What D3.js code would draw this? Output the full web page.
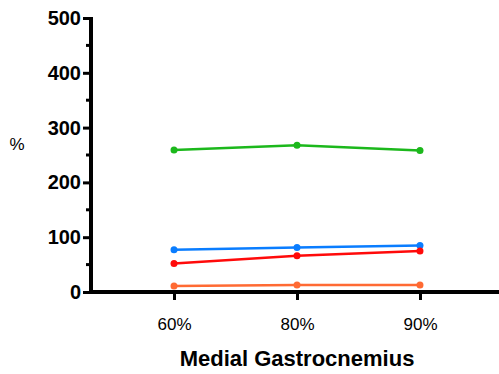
<!DOCTYPE html>
<html>
<head>
<meta charset="utf-8">
<script src="https://cdn.jsdelivr.net/npm/d3@7"></script>
<style>
  body { margin: 0; background: #fff; }
  text { font-family: "Liberation Sans", Arial, sans-serif; }
</style>
</head>
<body>
<div id="chart"></div>
<script>
// chart size
var svgWidth = 499;
var svgHeight = 374;

// data
var categories = ["60%", "80%", "90%"];
var seriesNames = ["green", "blue", "red", "orange"];
var greenValues = [259, 268, 258];
var blueValues = [77, 81, 85];
var redValues = [52, 66, 75];
var orangeValues = [11, 13, 13];
var yTicks = [0, 100, 200, 300, 400, 500];
var yMinorTicks = [50, 150, 250, 350, 450];
var colors = ["#1cb81c", "#0a7dff", "#ff0a0a", "#ff6a33"];

var series = [greenValues, blueValues, redValues, orangeValues];

var svg = d3.select("#chart")
  .append("svg")
  .attr("width", svgWidth)
  .attr("height", svgHeight);

// scales
var x = d3.scalePoint()
  .domain(categories)
  .range([91, 503])
  .padding(0.675);

var y = d3.scaleLinear()
  .domain([0, 500])
  .range([292, 18]);

// y axis
var yAxis = svg.append("g")
  .attr("transform", "translate(91,0)")
  .call(d3.axisLeft(y).tickValues(yTicks).tickSize(8).tickPadding(2));
yAxis.select(".domain").attr("stroke-width", 4).attr("d", "M0," + (y(500) - 1) + "V" + (y(0) + 2));
yAxis.selectAll(".tick line").attr("stroke-width", 3);
yAxis.selectAll(".tick text")
  .attr("font-size", 20)
  .attr("font-weight", "bold")
  .attr("fill", "#000")
  .attr("font-family", "Liberation Sans, Arial, sans-serif");

// minor y ticks
svg.append("g")
  .selectAll("line")
  .data(yMinorTicks)
  .enter()
  .append("line")
  .attr("x1", 86)
  .attr("x2", 91)
  .attr("y1", d => y(d))
  .attr("y2", d => y(d))
  .attr("stroke", "#000")
  .attr("stroke-width", 3);

// x axis
var xAxis = svg.append("g")
  .attr("transform", "translate(0,292)")
  .call(d3.axisBottom(x).tickSize(8).tickPadding(18));
xAxis.select(".domain").attr("stroke-width", 4).attr("d", "M89,0H499");
xAxis.selectAll(".tick line").attr("stroke-width", 3);
xAxis.selectAll(".tick text")
  .attr("font-size", 17)
  .attr("fill", "#000")
  .attr("font-family", "Liberation Sans, Arial, sans-serif");

// axis titles
svg.append("text")
  .attr("x", 17)
  .attr("y", 150)
  .attr("text-anchor", "middle")
  .attr("font-size", 17)
  .text("%");

svg.append("text")
  .attr("x", 297)
  .attr("y", 366)
  .attr("text-anchor", "middle")
  .attr("font-size", 22)
  .attr("font-weight", "bold")
  .text("Medial Gastrocnemius");

// lines + points
var line = d3.line()
  .x((d, i) => x(categories[i]))
  .y(d => y(d));

series.forEach(function(vals, k) {
  var g = svg.append("g").attr("class", "series-" + seriesNames[k]);
  g.append("path")
    .datum(vals)
    .attr("d", line)
    .attr("fill", "none")
    .attr("stroke", colors[k])
    .attr("stroke-width", 2.5);
  g.selectAll("circle")
    .data(vals)
    .enter()
    .append("circle")
    .attr("cx", (d, i) => x(categories[i]))
    .attr("cy", d => y(d))
    .attr("r", 3.5)
    .attr("fill", colors[k]);
});
</script>
</body>
</html>
